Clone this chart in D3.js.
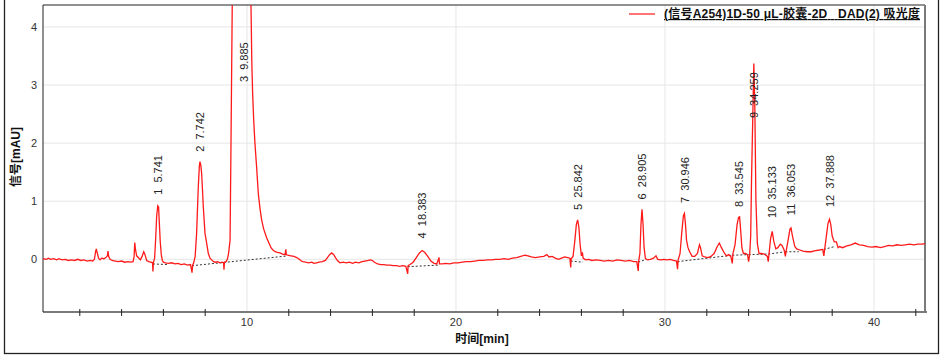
<!DOCTYPE html>
<html>
<head>
<meta charset="utf-8">
<script src="https://cdn.jsdelivr.net/npm/d3@7"></script>
<style>
	body{ margin:0; background:#fff; }
	svg text{ font-family:"Liberation Sans","Noto Sans CJK SC",sans-serif; }
</style>
</head>
<body>
<div id="container"></div>
<script>
// chromatogram trace, [time min, signal mAU]
var trace = [
	[0.24,0.01],[0.4,0.0],[0.5,0.02],[0.6,0.0],[0.75,0.01],[0.9,-0.01],[1.0,0.01],[1.15,-0.01],[1.3,0.0],[1.45,-0.02],
	[1.6,-0.01],[1.75,-0.02],[1.9,0.0],[2.05,-0.02],[2.2,-0.01],[2.35,-0.03],[2.5,-0.02],[2.62,-0.03],[2.7,0.0],[2.76,0.14],
	[2.79,0.18],[2.83,0.12],[2.9,0.02],[2.97,-0.01],[3.05,0.02],[3.15,0.01],[3.25,0.03],[3.32,0.06],[3.35,0.14],[3.38,0.05],
	[3.45,0.0],[3.55,-0.02],[3.7,-0.03],[3.85,-0.04],[4.0,-0.03],[4.15,-0.05],[4.3,-0.04],[4.45,-0.05],[4.55,-0.04],[4.6,0.05],
	[4.63,0.29],[4.66,0.18],[4.72,0.06],[4.8,0.03],[4.9,-0.01],[4.98,0.05],[5.06,0.13],[5.12,0.08],[5.2,-0.02],[5.3,-0.04],
	[5.4,-0.05],[5.48,-0.06],[5.5,-0.21],[5.52,-0.06],[5.58,0.02],[5.63,0.35],[5.68,0.75],[5.73,0.92],[5.77,0.9],[5.81,0.6],
	[5.85,0.3],[5.9,0.08],[5.95,-0.02],[6.0,-0.05],[6.1,-0.06],[6.25,-0.07],[6.4,-0.06],[6.55,-0.08],[6.7,-0.07],[6.85,-0.09],
	[7.0,-0.08],[7.15,-0.1],[7.3,-0.09],[7.37,-0.23],[7.4,-0.1],[7.45,-0.06],[7.52,0.05],[7.59,0.45],[7.67,1.25],[7.72,1.6],
	[7.75,1.68],[7.79,1.62],[7.83,1.48],[7.87,1.2],[7.91,0.9],[7.99,0.45],[8.06,0.3],[8.15,0.1],[8.23,0.02],[8.31,-0.01],
	[8.4,-0.04],[8.5,-0.05],[8.6,-0.04],[8.7,-0.06],[8.8,-0.05],[8.88,-0.06],[8.9,-0.18],[8.92,-0.05],[9.0,-0.04],[9.06,0.0],
	[9.12,0.1],[9.19,0.33],[9.23,1.8],[9.3,4.6],[9.45,9.0],[9.7,13.5],[9.885,15.0],[10.05,11.0],[10.19,4.4],[10.23,3.4],
	[10.27,2.86],[10.32,2.4],[10.38,2.0],[10.46,1.59],[10.54,1.14],[10.62,0.88],[10.7,0.68],[10.8,0.52],[10.94,0.37],[11.05,0.28],
	[11.15,0.2],[11.24,0.16],[11.35,0.13],[11.45,0.12],[11.58,0.11],[11.7,0.09],[11.82,0.08],[11.86,0.17],[11.88,0.08],[11.95,0.07],
	[12.1,0.06],[12.25,0.05],[12.38,0.03],[12.5,0.0],[12.6,-0.03],[12.68,-0.04],[12.8,-0.05],[12.95,-0.06],[13.1,-0.05],[13.2,-0.07],
	[13.33,-0.06],[13.45,-0.05],[13.6,-0.04],[13.75,-0.02],[13.85,0.03],[13.95,0.08],[14.05,0.11],[14.15,0.08],[14.25,0.02],[14.35,-0.03],
	[14.45,-0.06],[14.6,-0.05],[14.75,-0.06],[14.9,-0.05],[15.05,-0.07],[15.2,-0.05],[15.35,-0.06],[15.5,-0.04],[15.65,-0.03],[15.8,-0.02],
	[15.9,-0.01],[16.0,-0.02],[16.1,-0.05],[16.25,-0.08],[16.4,-0.09],[16.55,-0.09],[16.7,-0.1],[16.85,-0.1],[17.0,-0.11],[17.15,-0.11],
	[17.3,-0.12],[17.45,-0.11],[17.6,-0.12],[17.69,-0.25],[17.71,-0.11],[17.8,-0.09],[17.95,-0.05],[18.1,0.03],[18.25,0.11],[18.38,0.15],
	[18.5,0.12],[18.65,0.05],[18.8,-0.03],[18.95,-0.07],[19.08,-0.08],[19.19,0.03],[19.21,-0.08],[19.35,-0.08],[19.5,-0.07],[19.7,-0.08],
	[19.9,-0.06],[20.1,-0.06],[20.3,-0.05],[20.5,-0.04],[20.7,-0.04],[20.9,-0.03],[21.1,-0.02],[21.3,-0.02],[21.5,-0.01],[21.7,-0.01],
	[21.9,0.0],[22.1,0.0],[22.3,0.01],[22.5,0.0],[22.7,0.02],[22.9,0.03],[23.1,0.05],[23.3,0.07],[23.45,0.06],[23.6,0.04],
	[23.8,0.03],[24.0,0.04],[24.2,0.05],[24.35,0.08],[24.45,0.04],[24.6,0.05],[24.75,0.02],[24.9,0.0],[25.05,0.02],[25.2,0.04],
	[25.35,0.03],[25.45,0.02],[25.49,-0.14],[25.51,0.01],[25.6,0.05],[25.68,0.3],[25.76,0.6],[25.82,0.68],[25.88,0.55],[25.94,0.25],
	[26.0,0.06],[26.05,0.12],[26.08,0.02],[26.2,-0.01],[26.35,0.0],[26.5,-0.02],[26.7,-0.01],[26.9,-0.02],[27.1,-0.03],[27.3,-0.02],
	[27.5,-0.03],[27.7,-0.01],[27.9,-0.02],[28.1,-0.03],[28.3,-0.02],[28.5,-0.04],[28.65,-0.04],[28.72,-0.2],[28.74,-0.03],[28.8,0.1],
	[28.85,0.6],[28.9,0.86],[28.95,0.6],[29.0,0.2],[29.06,0.02],[29.15,-0.01],[29.3,0.0],[29.45,0.02],[29.57,0.06],[29.65,0.0],
	[29.8,-0.01],[29.95,0.0],[30.1,-0.01],[30.25,0.0],[30.4,-0.02],[30.55,-0.03],[30.6,-0.17],[30.63,-0.01],[30.72,0.1],[30.8,0.45],
	[30.88,0.75],[30.93,0.79],[30.98,0.6],[31.03,0.33],[31.1,0.2],[31.18,0.13],[31.3,0.05],[31.42,0.05],[31.55,0.1],[31.65,0.25],
	[31.7,0.2],[31.78,0.06],[31.9,0.04],[32.05,0.03],[32.2,0.05],[32.35,0.1],[32.5,0.22],[32.6,0.28],[32.7,0.2],[32.85,0.1],
	[32.95,0.06],[33.05,0.08],[33.15,0.05],[33.22,-0.07],[33.25,0.1],[33.35,0.25],[33.45,0.6],[33.52,0.72],[33.57,0.73],[33.62,0.5],
	[33.68,0.2],[33.75,0.1],[33.85,0.1],[33.95,0.08],[34.0,-0.04],[34.05,0.08],[34.1,0.4],[34.14,1.36],[34.2,2.45],[34.25,3.37],
	[34.3,2.57],[34.35,1.02],[34.42,0.27],[34.5,0.1],[34.6,0.1],[34.75,0.09],[34.9,0.05],[34.94,-0.04],[34.98,0.1],[35.05,0.35],
	[35.13,0.48],[35.2,0.32],[35.3,0.18],[35.4,0.2],[35.52,0.26],[35.6,0.24],[35.7,0.16],[35.76,0.05],[35.8,0.15],[35.9,0.35],
	[35.98,0.52],[36.03,0.54],[36.1,0.4],[36.21,0.22],[36.3,0.18],[36.45,0.16],[36.6,0.14],[36.8,0.13],[37.0,0.13],[37.2,0.15],
	[37.4,0.16],[37.55,0.17],[37.6,0.06],[37.65,0.2],[37.72,0.4],[37.8,0.62],[37.87,0.69],[37.93,0.6],[38.0,0.4],[38.1,0.3],
	[38.2,0.3],[38.28,0.2],[38.35,0.22],[38.5,0.2],[38.7,0.23],[38.9,0.25],[39.1,0.28],[39.3,0.25],[39.5,0.24],[39.7,0.22],
	[39.9,0.21],[40.1,0.22],[40.3,0.2],[40.5,0.22],[40.7,0.24],[40.9,0.23],[41.1,0.25],[41.3,0.24],[41.5,0.25],[41.7,0.26],
	[41.9,0.25],[42.1,0.26],[42.3,0.26],[42.44,0.27]
];

// integration baselines, [t0, v0, t1, v1]
var baselines = [
	[5.5,-0.08,6.2,-0.09],
	[7.37,-0.11,11.91,0.057],
	[17.69,-0.127,19.15,-0.1],
	[25.49,-0.03,26.08,-0.05],
	[28.72,-0.05,29.1,0.0],
	[30.6,-0.04,33.22,0.07],
	[33.22,0.07,34.0,0.08],
	[34.0,0.08,34.94,0.09],
	[34.94,0.09,35.76,0.13],
	[35.76,0.13,36.4,0.13],
	[37.6,0.17,38.13,0.22]
];

// peak annotations
var peakNo = [1,2,3,4,5,6,7,8,9,10,11,12];
var peakRT = [5.741,7.742,9.885,18.383,25.842,28.905,30.946,33.545,34.259,35.133,36.053,37.888];
var labelAt = [1.11,1.85,3.05,0.36,0.85,1.03,0.97,0.9,2.43,0.71,0.76,0.9];

var yTicks = [0,1,2,3,4];
var xLabels = [10,20,30,40];
var xMinor = [2,4,6,8,12,14,16,18,22,24,26,28,32,34,36,38,42];

var legendText = '(信号A254)1D-50 μL-胶囊-2D   DAD(2) 吸光度';

var init = function(){

	return {

		w:945,
		h:359,

		generate:function(){
			var self = vis;

			var plot = { left:43, top:5, right:925, bottom:312 };

			var x = d3.scaleLinear().domain([0.24,42.44]).range([plot.left,plot.right]);
			var y = d3.scaleLinear().domain([-0.907,4.377]).range([plot.bottom,plot.top]);

			self.svg = d3.select('#container').append('svg')
				.attr('width',self.w)
				.attr('height',self.h);

			// outer frame
			self.svg.append('rect')
				.attr('x',4.5).attr('y',-1)
				.attr('width',934).attr('height',354.5)
				.attr('fill','#fff')
				.attr('stroke','#222')
				.attr('stroke-width',1.3);

			self.svg.append('clipPath').attr('id','clip')
				.append('rect')
				.attr('x',plot.left).attr('y',plot.top)
				.attr('width',plot.right -plot.left).attr('height',plot.bottom -plot.top);

			// grid
			self.svg.selectAll('line.hgrid')
				.data(yTicks)
				.enter().append('line')
				.classed('hgrid',true)
				.attr('x1',plot.left).attr('x2',plot.right)
				.attr('y1',function(d){ return y(d); })
				.attr('y2',function(d){ return y(d); })
				.attr('stroke','#e6e6e6');

			self.svg.selectAll('line.vgrid')
				.data(xLabels)
				.enter().append('line')
				.classed('vgrid',true)
				.attr('y1',plot.top).attr('y2',plot.bottom)
				.attr('x1',function(d){ return x(d); })
				.attr('x2',function(d){ return x(d); })
				.attr('stroke','#e6e6e6');

			// y tick labels
			self.svg.selectAll('text.ytick')
				.data(yTicks)
				.enter().append('text')
				.classed('ytick',true)
				.attr('x',37)
				.attr('y',function(d){ return y(d); })
				.attr('dy','0.35em')
				.attr('text-anchor','end')
				.attr('font-size',11)
				.attr('fill','#333')
				.text(function(d){ return d; });

			// x axis line, ticks and labels
			self.svg.append('line')
				.attr('x1',plot.left).attr('x2',plot.right +2)
				.attr('y1',plot.bottom).attr('y2',plot.bottom)
				.attr('stroke','#7a7a7a').attr('stroke-width',2);

			self.svg.selectAll('line.xtick')
				.data(xMinor)
				.enter().append('line')
				.classed('xtick',true)
				.attr('x1',function(d){ return x(d); })
				.attr('x2',function(d){ return x(d); })
				.attr('y1',plot.bottom -3).attr('y2',plot.bottom +4)
				.attr('stroke','#222').attr('stroke-width',1);

			self.svg.selectAll('text.xtick')
				.data(xLabels)
				.enter().append('text')
				.classed('xtick',true)
				.attr('x',function(d){ return x(d); })
				.attr('y',plot.bottom +14)
				.attr('text-anchor','middle')
				.attr('font-size',11)
				.attr('fill','#333')
				.text(function(d){ return d; });

			// frame of the plot area
			self.svg.append('line')
				.attr('x1',plot.left).attr('x2',plot.left)
				.attr('y1',plot.top).attr('y2',plot.bottom)
				.attr('stroke','#222');
			self.svg.append('line')
				.attr('x1',plot.left).attr('x2',plot.right)
				.attr('y1',plot.top).attr('y2',plot.top)
				.attr('stroke','#222');
			self.svg.append('line')
				.attr('x1',plot.right).attr('x2',plot.right)
				.attr('y1',plot.top).attr('y2',plot.bottom)
				.attr('stroke','#7a7a7a').attr('stroke-width',2);

			// integration baselines
			self.svg.selectAll('line.base')
				.data(baselines)
				.enter().append('line')
				.classed('base',true)
				.attr('x1',function(d){ return x(d[0]); })
				.attr('y1',function(d){ return y(d[1]); })
				.attr('x2',function(d){ return x(d[2]); })
				.attr('y2',function(d){ return y(d[3]); })
				.attr('stroke','#333')
				.attr('stroke-dasharray','2,2');

			// trace
			var line = d3.line()
				.x(function(d){ return x(d[0]); })
				.y(function(d){ return y(d[1]); });

			self.svg.append('path')
				.datum(trace)
				.attr('clip-path','url(#clip)')
				.attr('d',line)
				.attr('fill','none')
				.attr('stroke','#ff1a1a')
				.attr('stroke-width',1.3);

			// peak labels
			self.svg.selectAll('text.peak')
				.data(peakNo)
				.enter().append('text')
				.classed('peak',true)
				.attr('transform',function(d,i){
					return 'translate(' +x(peakRT[i]) +',' +y(labelAt[i]) +') rotate(-90)';
				})
				.attr('dy','0.35em')
				.attr('font-size',11)
				.attr('fill','#222')
				.style('white-space','pre')
				.text(function(d,i){ return d +'  ' +peakRT[i].toFixed(3); });

			// axis titles
			self.svg.append('text')
				.attr('transform','translate(16,157) rotate(-90)')
				.attr('dy','0.35em')
				.attr('text-anchor','middle')
				.attr('font-size',12)
				.attr('font-weight','bold')
				.attr('fill','#111')
				.text('信号[mAU]');

			self.svg.append('text')
				.attr('x',482).attr('y',343)
				.attr('text-anchor','middle')
				.attr('font-size',12)
				.attr('font-weight','bold')
				.attr('fill','#111')
				.text('时间[min]');

			// legend
			self.svg.append('line')
				.attr('x1',629).attr('x2',655)
				.attr('y1',14).attr('y2',14)
				.attr('stroke','#ff1a1a').attr('stroke-width',1.2);

			self.svg.append('text')
				.attr('x',664).attr('y',18)
				.attr('textLength',256)
				.attr('lengthAdjust','spacing')
				.attr('font-size',12)
				.attr('font-weight','bold')
				.attr('fill','#111')
				.attr('text-decoration','underline')
				.style('white-space','pre')
				.text(legendText);
		}
	}
}

var vis = init();
vis.generate();
</script>
</body>
</html>
